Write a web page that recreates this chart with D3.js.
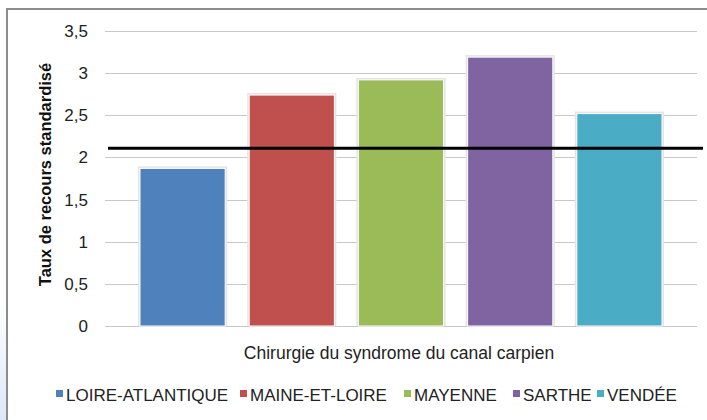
<!DOCTYPE html>
<html>
<head>
<meta charset="utf-8">
<script src="https://cdn.jsdelivr.net/npm/d3@7"></script>
<style>
  body { margin: 0; background: #fff; }
  svg { display: block; font-family: "Liberation Sans", Arial, sans-serif; }
</style>
</head>
<body>
<div class="chart"></div>
<script>
// data
const departements = ['LOIRE-ATLANTIQUE', 'MAINE-ET-LOIRE', 'MAYENNE', 'SARTHE', 'VENDÉE'];
const taux = [1.87, 2.74, 2.92, 3.19, 2.52];
const couleurs = ['#4F81BD', '#C0504D', '#9BBB59', '#8064A2', '#4BACC6'];
const yTicks = [0, 0.5, 1, 1.5, 2, 2.5, 3, 3.5];
const reference = [2.11];
const categorie = 'Chirurgie du syndrome du canal carpien';
const yTitre = 'Taux de recours standardisé';

const W = 707, H = 420;
const plot = {left: 105, right: 697, top: 31, bottom: 326};

const svg = d3.select('.chart').append('svg')
    .attr('width', W)
    .attr('height', H);

// faint blue background bottom-left, outside the frame
const defs = svg.append('defs');
const grad = defs.append('linearGradient')
    .attr('id', 'bg')
    .attr('x1', 0).attr('y1', 0).attr('x2', 0).attr('y2', 1);
grad.append('stop').attr('offset', '0%').attr('stop-color', '#fff');
grad.append('stop').attr('offset', '100%').attr('stop-color', '#dbe8f7');
svg.append('rect')
    .attr('x', 0).attr('y', 300).attr('width', 7).attr('height', 120)
    .attr('fill', 'url(#bg)');

// frame
svg.append('path')
    .attr('d', `M7,${H} L7,9 L${W},9`)
    .attr('fill', 'none')
    .attr('stroke', '#8c8c8c')
    .attr('stroke-width', 2);

const y = d3.scaleLinear()
    .domain([0, 3.5])
    .range([plot.bottom, plot.top]);

const x = d3.scaleBand()
    .domain(departements)
    .range([plot.left + 35, plot.right - 35])
    .paddingInner(0.22);

// gridlines
svg.append('g')
    .attr('class', 'grid')
  .selectAll('line')
  .data(yTicks)
  .join('line')
    .attr('x1', plot.left)
    .attr('x2', plot.right)
    .attr('y1', d => Math.round(y(d)) + 0.5)
    .attr('y2', d => Math.round(y(d)) + 0.5)
    .attr('stroke', '#c8c8c8')
    .attr('stroke-width', 1);

// y axis labels
const fmt = d => String(d).replace('.', ',');
const yAxis = svg.append('g')
    .attr('transform', `translate(${plot.left},0)`)
    .call(d3.axisLeft(y).tickValues(yTicks).tickFormat(fmt).tickSize(0).tickPadding(17));
yAxis.select('.domain').remove();
yAxis.selectAll('text')
    .attr('font-size', 17)
    .attr('font-family', '"Liberation Sans", Arial, sans-serif')
    .attr('fill', '#222');

// bars with a soft halo
const bars = svg.append('g').attr('class', 'bars');
bars.selectAll('rect.halo')
  .data(taux)
  .join('rect')
    .attr('class', 'halo')
    .attr('x', (d, i) => x(departements[i]) - 2)
    .attr('y', d => y(d) - 2)
    .attr('width', x.bandwidth() + 4)
    .attr('height', d => y(0) - y(d) + 2)
    .attr('fill', '#e4e4e4');
bars.selectAll('rect.bar')
  .data(taux)
  .join('rect')
    .attr('class', 'bar')
    .attr('x', (d, i) => x(departements[i]))
    .attr('y', d => y(d))
    .attr('width', x.bandwidth())
    .attr('height', d => y(0) - y(d))
    .attr('fill', (d, i) => couleurs[i])
    .attr('stroke', '#fff')
    .attr('stroke-width', 1);

// reference line
svg.selectAll('line.ref')
  .data(reference)
  .join('line')
    .attr('class', 'ref')
    .attr('x1', 108)
    .attr('x2', 703)
    .attr('y1', d => y(d))
    .attr('y2', d => y(d))
    .attr('stroke', '#000')
    .attr('stroke-width', 3);

// axis titles
svg.append('text')
    .attr('x', 399)
    .attr('y', 359)
    .attr('text-anchor', 'middle')
    .attr('font-size', 17.5)
    .attr('fill', '#222')
    .text(categorie);

svg.append('text')
    .attr('transform', `translate(51,${(plot.top + plot.bottom) / 2 - 4}) rotate(-90)`)
    .attr('text-anchor', 'middle')
    .attr('font-size', 16.5)
    .attr('font-weight', 'bold')
    .attr('fill', '#111')
    .text(yTitre);

// legend
const legendX = [56, 240, 404, 513, 597];
const legend = svg.append('g').attr('class', 'legend')
  .selectAll('g')
  .data(departements)
  .join('g')
    .attr('transform', (d, i) => `translate(${legendX[i]},390)`);
legend.append('rect')
    .attr('width', 7)
    .attr('height', 7)
    .attr('fill', (d, i) => couleurs[i]);
legend.append('text')
    .attr('x', 10)
    .attr('y', 10.5)
    .attr('font-size', 17)
    .attr('fill', '#222')
    .text(d => d);
</script>
</body>
</html>
